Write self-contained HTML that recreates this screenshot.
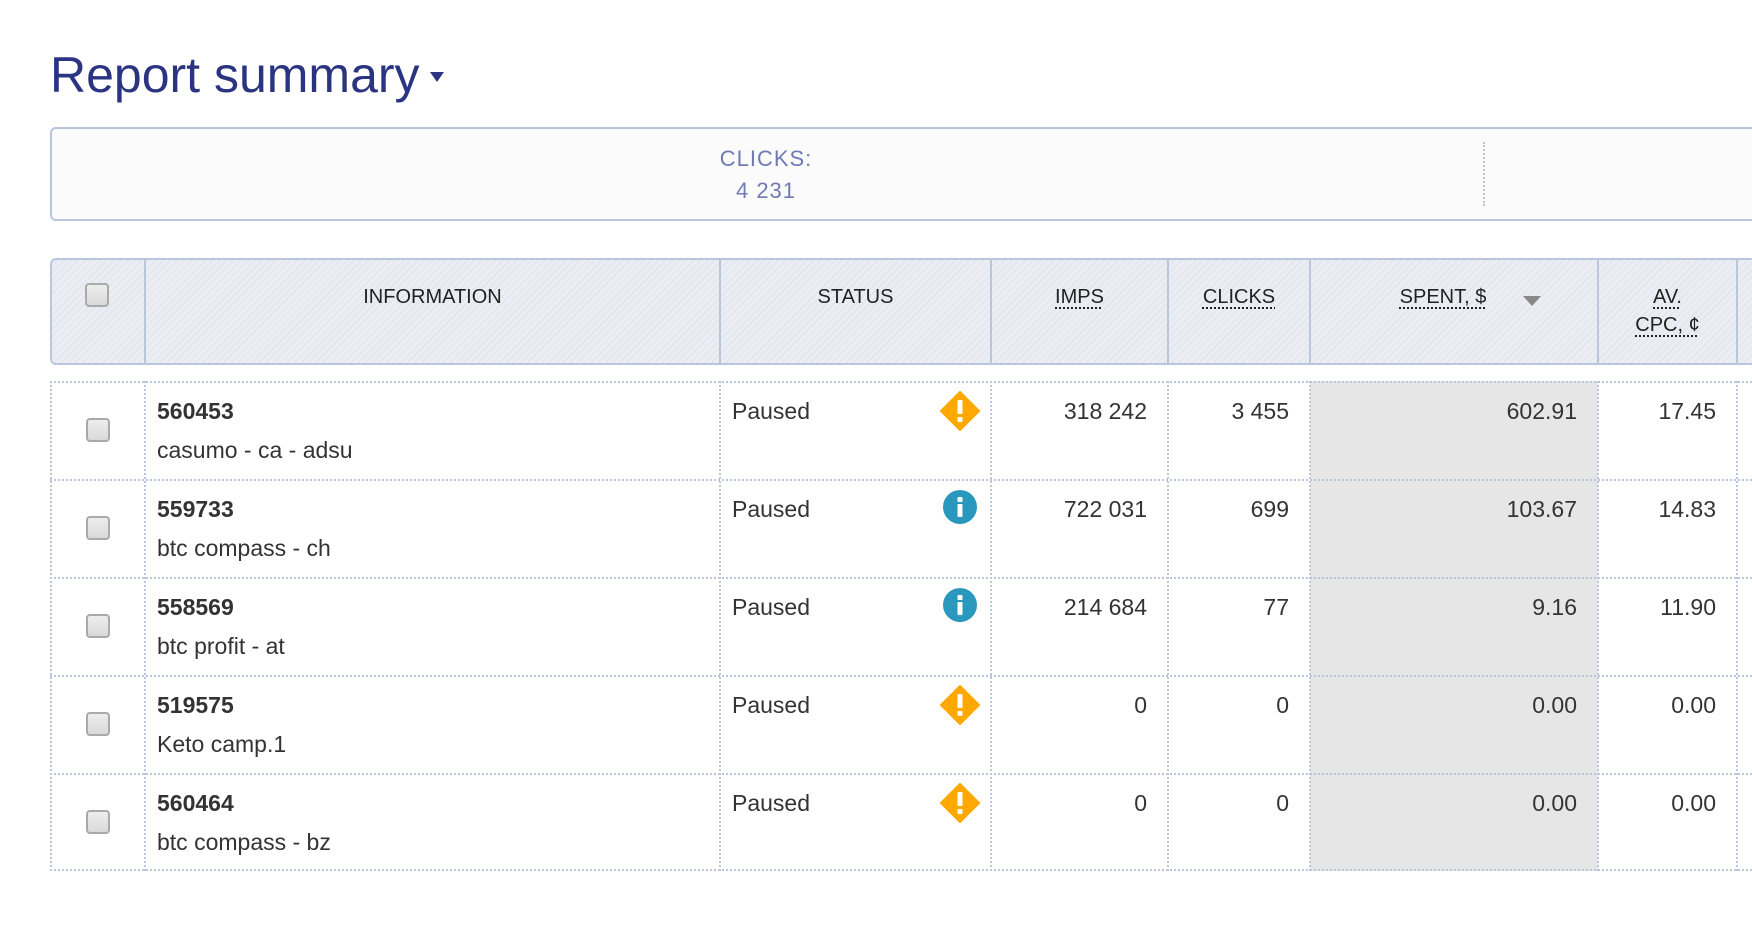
<!DOCTYPE html>
<html><head><meta charset="utf-8"><style>
*{margin:0;padding:0;box-sizing:border-box}
body{width:1752px;height:948px;background:#fff;font-family:"Liberation Sans",Arial,sans-serif;position:relative;overflow:hidden;color:#333}
.a{position:absolute}
.title{left:50px;top:45px;font-size:50px;color:#2b3480;line-height:60px;white-space:nowrap}
.tri{display:inline-block;width:0;height:0;border-left:7px solid transparent;border-right:7px solid transparent;border-top:10px solid #2b3480;vertical-align:middle;margin-left:10px;position:relative;top:-2px}
.sum{left:50px;top:127px;width:1740px;height:94px;border:2px solid #b9c6de;border-radius:6px;background:#fbfbfb}
.hdr{left:50px;top:258px;width:1740px;height:107px;border:2px solid #b9c6de;border-radius:6px;background:repeating-linear-gradient(135deg,#eceef4 0 3px,#e4e7ef 3px 5px)}
.vl{width:2px;background:#b9c6de;top:258px;height:107px}
.ht{font-size:20px;color:#222;text-align:center;top:283px;line-height:28px}
.u{text-decoration:underline dotted;text-underline-offset:4px}
.cb{width:24px;height:24px;border:2px solid #aaa;border-radius:4px;background:linear-gradient(#eee,#d9d9d9)}
.cell{font-size:23px;color:#333;line-height:26px}
.r{text-align:right}
.hd{border-top:2px dotted #b9c6de}
.vd{border-left:2px dotted #b9c6de;width:0}
</style></head><body>
<div class="a title">Report summary<span class="tri"></span></div>
<div class="a sum"></div>
<div class="a" style="left:1483px;top:142px;height:64px;border-left:2px dotted #b9c6de"></div>
<div class="a" style="left:566px;width:400px;top:143px;text-align:center;font-size:22px;color:#6f7bb3;line-height:32px;letter-spacing:1px">CLICKS:<br>4 231</div>

<div class="a hdr"></div>
<div class="a vl" style="left:144px"></div>
<div class="a vl" style="left:719px"></div>
<div class="a vl" style="left:990px"></div>
<div class="a vl" style="left:1167px"></div>
<div class="a vl" style="left:1309px"></div>
<div class="a vl" style="left:1597px"></div>
<div class="a vl" style="left:1736px"></div>
<div class="a cb" style="left:85px;top:283px"></div>
<div class="a ht" style="left:145px;width:575px">INFORMATION</div>
<div class="a ht" style="left:720px;width:271px">STATUS</div>
<div class="a ht" style="left:991px;width:177px"><span class="u">IMPS</span></div>
<div class="a ht" style="left:1168px;width:142px"><span class="u">CLICKS</span></div>
<div class="a ht" style="left:1310px;width:266px"><span class="u">SPENT, $</span></div>
<div class="a" style="left:1523px;top:296px;border-left:9px solid transparent;border-right:9px solid transparent;border-top:10px solid #888"></div>
<div class="a ht" style="left:1598px;width:139px"><span class="u">AV.</span><br><span class="u">CPC, ¢</span></div>

<div class="a" style="left:1310px;top:381px;width:288px;height:490px;background:#e6e6e6"></div>

<div id="rows"></div>
<script>
var d=[["560453","casumo - ca - adsu","w","318 242","3 455","602.91","17.45"],
["559733","btc compass - ch","i","722 031","699","103.67","14.83"],
["558569","btc profit - at","i","214 684","77","9.16","11.90"],
["519575","Keto camp.1","w","0","0","0.00","0.00"],
["560464","btc compass - bz","w","0","0","0.00","0.00"]];
var h="";
for(var i=0;i<5;i++){var t=381+i*98,r=d[i];
h+='<div class="a hd" style="left:50px;top:'+t+'px;width:1702px"></div>';
h+='<div class="a cb" style="left:86px;top:'+(t+37)+'px"></div>';
h+='<div class="a cell" style="left:157px;top:'+(t+17)+'px;font-weight:bold">'+r[0]+'</div>';
h+='<div class="a cell" style="left:157px;top:'+(t+56)+'px">'+r[1]+'</div>';
h+='<div class="a cell" style="left:732px;top:'+(t+17)+'px">Paused</div>';
if(r[2]=="w")h+='<svg class="a" style="left:940px;top:'+(t+10)+'px" width="40" height="40" viewBox="0 0 40 40"><path d="M20 1 L39 20 L20 39 L1 20Z" fill="#ffa800" stroke="#ffa800" stroke-linejoin="round" stroke-width="2"/><rect x="17.5" y="9" width="5" height="14" rx="1" fill="#fff"/><rect x="17.5" y="26" width="5" height="5" rx="1" fill="#fff"/></svg>';
else h+='<svg class="a" style="left:943px;top:'+(t+11)+'px" width="34" height="34" viewBox="0 0 34 34"><circle cx="17" cy="17" r="17" fill="#2a98bd"/><rect x="14.5" y="7" width="5" height="5" rx="1" fill="#fff"/><rect x="14.5" y="14" width="5" height="13" rx="1" fill="#fff"/></svg>';
h+='<div class="a cell r" style="left:991px;width:156px;top:'+(t+17)+'px">'+r[3]+'</div>';
h+='<div class="a cell r" style="left:1168px;width:121px;top:'+(t+17)+'px">'+r[4]+'</div>';
h+='<div class="a cell r" style="left:1310px;width:267px;top:'+(t+17)+'px">'+r[5]+'</div>';
h+='<div class="a cell r" style="left:1598px;width:118px;top:'+(t+17)+'px">'+r[6]+'</div>';
}
h+='<div class="a hd" style="left:50px;top:869px;width:1702px"></div>';
var xs=[50,144,719,990,1167,1309,1597,1736];
for(var j=0;j<xs.length;j++)h+='<div class="a vd" style="left:'+xs[j]+'px;top:381px;height:490px"></div>';
document.getElementById("rows").innerHTML=h;
</script>
</body></html>
